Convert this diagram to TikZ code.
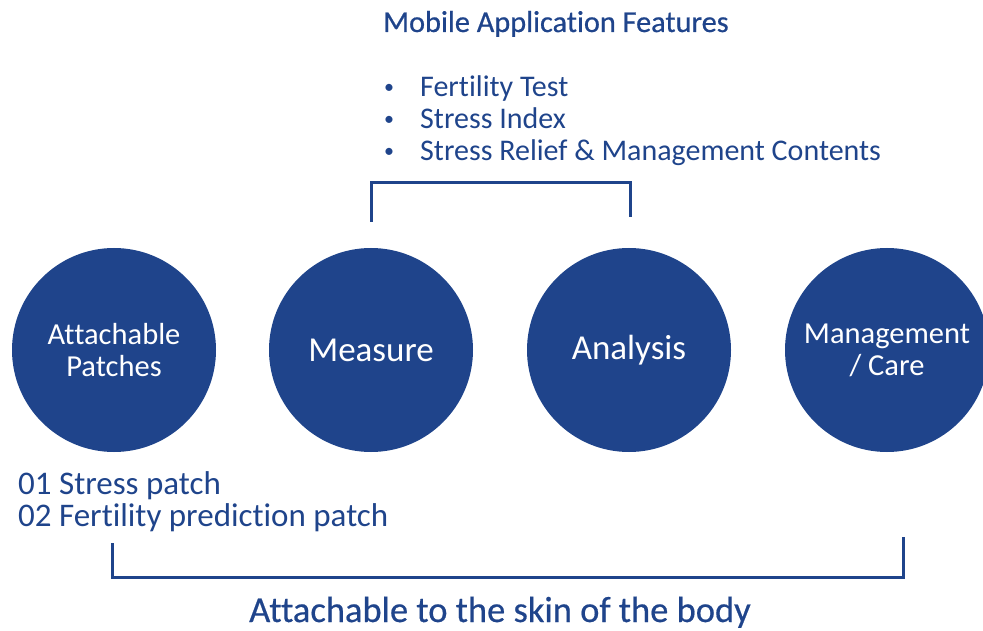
\documentclass[tikz,border=0pt]{standalone}
\usepackage{fontspec}
\setmainfont{Carlito}[Ligatures=NoCommon]
\newfontfamily\medfont{Carlito}[Ligatures=NoCommon,FakeBold=0.6]
\newfontfamily\semifont{Carlito}[Ligatures=NoCommon,FakeBold=0.5]
\definecolor{navy}{RGB}{31,68,139}
\tikzset{
  disc/.style={circle, fill=navy, draw=none, minimum size=204pt, inner sep=0pt, text=white, align=center},
  bigtxt/.style={font=\fontsize{35}{37}\selectfont},
  twotxt/.style={font=\fontsize{30.5}{32}\selectfont},
  lbl/.style={text=navy, inner sep=0pt, anchor=base west},
  bul/.style={text=navy, inner sep=0pt, anchor=base west, font=\fontsize{20}{22}\selectfont},
  brk/.style={draw=navy, line width=3pt}
}
\begin{document}
\begin{tikzpicture}[x=1pt,y=-1pt]
\useasboundingbox (0,0) rectangle (983,631);
\clip (0,0) rectangle (983,631);
% circles
\node[disc, twotxt] (patch) at (114,350) {Attachable\\Patches};
\node[disc, bigtxt] (measure) at (371,350) {Measure};
\node[disc, bigtxt] (analysis) at (629,350) {Analysis};
\node[disc, twotxt] (care) at (887,350) {Management\\/ Care};
% top text
\node[lbl, font=\medfont\fontsize{30.3}{32}\selectfont] (title) at (383,32) {Mobile Application Features};
\node[bul] (b1) at (384,94) {•};
\node[lbl, font=\fontsize{30}{32}\selectfont] (t1) at (420,97) {Fertility Test};
\node[bul] (b2) at (384,126) {•};
\node[lbl, font=\fontsize{30}{32}\selectfont] (t2) at (420,129) {Stress Index};
\node[bul] (b3) at (384,158) {•};
\node[lbl, font=\fontsize{30}{32}\selectfont] (t3) at (420,161) {Stress Relief \& Management Contents};
% top bracket
\coordinate (tl) at (371,222);
\coordinate (tr) at (630,217);
\coordinate (ttop) at (630,183);
\draw[brk] (tl) |- (ttop) -- (tr);
% patch list
\node[lbl, font=\fontsize{33}{34}\selectfont] (p1) at (18,494) {01 Stress patch};
\node[lbl, font=\fontsize{33}{34}\selectfont] (p2) at (18,526) {02 Fertility prediction patch};
% bottom bracket
\coordinate (bl) at (112,543);
\coordinate (br) at (903,537);
\coordinate (bbot) at (903,577);
\draw[brk] (bl) |- (bbot) -- (br);
\node[text=navy, inner sep=0pt, anchor=base, font=\semifont\fontsize{36.5}{38}\selectfont] (skin) at (500,622) {Attachable to the skin of the body};
\end{tikzpicture}
\end{document}
